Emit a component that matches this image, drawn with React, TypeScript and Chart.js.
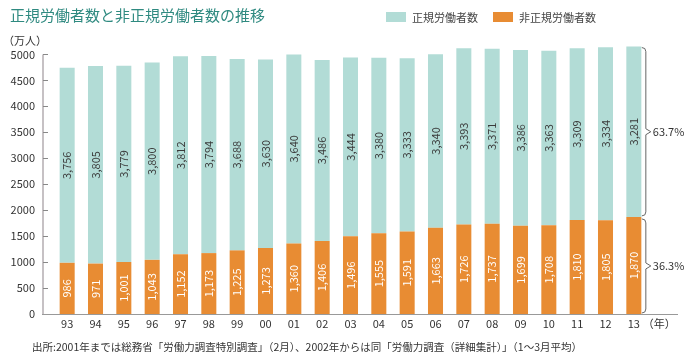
import React, { useEffect, useRef } from "react";
import { Chart, registerables } from "chart.js";

Chart.register(...registerables);

const years = ["93","94","95","96","97","98","99","00","01","02","03","04","05","06","07","08","09","10","11","12","13"];
const regular = [3756,3805,3779,3800,3812,3794,3688,3630,3640,3486,3444,3380,3333,3340,3393,3371,3386,3363,3309,3334,3281];
const irregular = [986,971,1001,1043,1152,1173,1225,1273,1360,1406,1496,1555,1591,1663,1726,1737,1699,1708,1810,1805,1870];
const seriesNames = ["正規労働者数", "非正規労働者数"];
const yTicks = [0,500,1000,1500,2000,2500,3000,3500,4000,4500,5000];

const TEAL = "#b2dcd6";
const ORANGE = "#e88c33";
const FONT = "'Noto Sans CJK JP', 'Noto Sans', sans-serif";

const fmt = (v: number) => v.toLocaleString("en-US");

const decor = {
  id: "decor",
  afterDatasetsDraw(chart: any) {
    const { ctx, chartArea, scales } = chart;
    const y = scales.y;
    const x = scales.x;
    ctx.save();
    const axX = chartArea.left - 10;
    const y0 = y.getPixelForValue(0);
    const yTop = y.getPixelForValue(5000);
    // y axis line
    ctx.strokeStyle = "#c6c1c4";
    ctx.lineWidth = 2;
    ctx.beginPath();
    ctx.moveTo(axX, y0);
    ctx.lineTo(axX, yTop);
    ctx.stroke();
    // inward ticks
    ctx.strokeStyle = "#888";
    ctx.lineWidth = 1;
    ctx.beginPath();
    yTicks.forEach((t) => {
      const py = Math.round(y.getPixelForValue(t)) + 0.5;
      ctx.moveTo(axX, py);
      ctx.lineTo(axX + 5, py);
    });
    ctx.stroke();
    // x axis line
    ctx.strokeStyle = "#999";
    ctx.beginPath();
    ctx.moveTo(axX - 1, Math.round(y0) + 0.5);
    ctx.lineTo(678, Math.round(y0) + 0.5);
    ctx.stroke();

    // value labels
    ctx.font = `11px ${FONT}`;
    ctx.textAlign = "center";
    ctx.textBaseline = "middle";
    chart.data.datasets.forEach((ds: any, di: number) => {
      const meta = chart.getDatasetMeta(di);
      meta.data.forEach((el: any, i: number) => {
        const cy = (el.y + el.base) / 2;
        ctx.save();
        ctx.translate(el.x, cy);
        ctx.rotate(-Math.PI / 2);
        ctx.fillStyle = di === 0 ? "#ffffff" : "#3a3a3a";
        ctx.fillText(fmt(ds.data[i]), 0, 0);
        ctx.restore();
      });
    });

    // braces for last year
    const last = years.length - 1;
    const elIrr = chart.getDatasetMeta(0).data[last];
    const elReg = chart.getDatasetMeta(1).data[last];
    const total = regular[last] + irregular[last];
    const pctReg = (Math.round((regular[last] / total) * 1000) / 10).toFixed(1) + "%";
    const pctIrr = (Math.round((irregular[last] / total) * 1000) / 10).toFixed(1) + "%";
    const bx = elReg.x + 8;
    const drawBrace = (t: number, b: number, label: string) => {
      const mid = (t + b) / 2;
      const vx = bx + 4;
      ctx.strokeStyle = "#666";
      ctx.lineWidth = 1;
      ctx.beginPath();
      ctx.moveTo(bx, t);
      ctx.quadraticCurveTo(vx, t, vx, t + 4);
      ctx.lineTo(vx, mid - 3);
      ctx.lineTo(vx + 5, mid);
      ctx.lineTo(vx, mid + 3);
      ctx.lineTo(vx, b - 4);
      ctx.quadraticCurveTo(vx, b, bx, b);
      ctx.stroke();
      ctx.fillStyle = "#333";
      ctx.textAlign = "left";
      ctx.textBaseline = "middle";
      ctx.font = `11px ${FONT}`;
      ctx.fillText(label, vx + 7, mid);
    };
    drawBrace(elReg.y + 1, elReg.base - 1, pctReg);
    drawBrace(elIrr.y + 2, elIrr.base - 1, pctIrr);

    // year unit
    ctx.fillStyle = "#333";
    ctx.textAlign = "left";
    ctx.textBaseline = "middle";
    ctx.font = `11px ${FONT}`;
    ctx.fillText("（年）", x.getPixelForValue(last) + 9, 324);
    ctx.restore();
  },
};

export default function App() {
  const ref = useRef<HTMLCanvasElement | null>(null);
  useEffect(() => {
    if (!ref.current) return;
    const chart = new Chart(ref.current, {
      type: "bar",
      data: {
        labels: years,
        datasets: [
          { label: seriesNames[1], data: irregular, backgroundColor: ORANGE, barPercentage: 0.53, categoryPercentage: 1 },
          { label: seriesNames[0], data: regular, backgroundColor: TEAL, barPercentage: 0.53, categoryPercentage: 1 },
        ],
      },
      options: {
        animation: false,
        responsive: false,
        maintainAspectRatio: false,
        layout: { padding: { top: 44, right: 42, left: 0, bottom: 0 } },
        plugins: { legend: { display: false }, title: { display: false }, tooltip: { enabled: false } },
        scales: {
          x: {
            stacked: true,
            grid: { display: false, drawTicks: false },
            border: { display: false },
            ticks: { color: "#333", font: { family: FONT, size: 11 }, padding: 3, maxRotation: 0, autoSkip: false },
            afterFit: (s: any) => { s.height = 44; },
          },
          y: {
            stacked: true,
            min: 0,
            max: 5200,
            grid: { display: false, drawTicks: false },
            border: { display: false },
            afterBuildTicks: (s: any) => { s.ticks = yTicks.map((v) => ({ value: v })); },
            ticks: { color: "#333", font: { family: FONT, size: 11 }, padding: 18, callback: (v: any) => String(v) },
            afterFit: (s: any) => { s.width = 53; },
          },
        },
      },
      plugins: [decor],
    });
    return () => chart.destroy();
  }, []);

  const legendItem = (color: string, text: string, left: number) => (
    <div style={{ position: "absolute", left, top: 11, display: "flex", alignItems: "center", height: 12 }}>
      <div style={{ width: 20, height: 10, background: color, marginRight: 6 }} />
      <span style={{ fontSize: 11, color: "#444", lineHeight: "12px", whiteSpace: "nowrap" }}>{text}</span>
    </div>
  );

  return (
    <div style={{ position: "fixed", left: 0, top: 0, width: 690, height: 358, background: "#fff", fontFamily: FONT }}>
      <canvas ref={ref} width={690} height={358} style={{ position: "absolute", left: 0, top: 0, width: 690, height: 358 }} />
      <div style={{ position: "absolute", left: 10, top: 5, fontSize: 15, color: "#2f8a80", lineHeight: "20px", whiteSpace: "nowrap" }}>
        正規労働者数と非正規労働者数の推移
      </div>
      <div style={{ position: "absolute", left: 3, top: 32, fontSize: 11, color: "#333", lineHeight: "16px", whiteSpace: "nowrap" }}>
        （万人）
      </div>
      {legendItem(TEAL, seriesNames[0], 386)}
      {legendItem(ORANGE, seriesNames[1], 493)}
      <div style={{ position: "absolute", left: 32, top: 340, fontSize: 10.5, color: "#333", lineHeight: "14px", whiteSpace: "nowrap" }}>
        出所:2001年までは総務省「労働力調査特別調査」（2月）、2002年からは同「労働力調査（詳細集計）」（1～3月平均）
      </div>
    </div>
  );
}
